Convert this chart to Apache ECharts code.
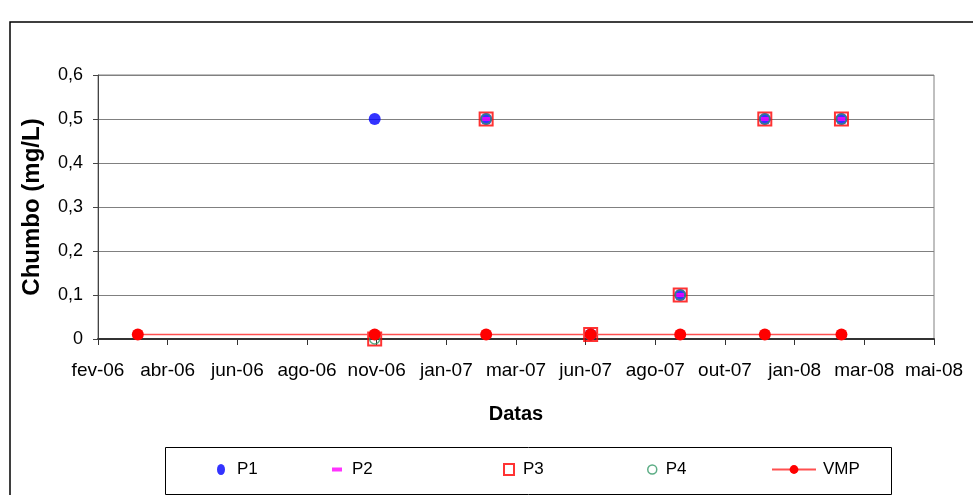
<!DOCTYPE html>
<html>
<head>
<meta charset="utf-8">
<script src="https://cdn.jsdelivr.net/npm/echarts@6/dist/echarts.min.js"></script>
<style>
html,body{margin:0;padding:0;background:#fff;}
#chart{width:973px;height:495px;}
</style>
</head>
<body>
<div id="chart"></div>
<script>
// Sampling dates
var dates = ['2006-03-13','2006-11-06','2007-02-26','2007-06-11','2007-09-09','2007-12-03','2008-02-18'];
// Lead (mg/L) per point
var P1  = [null, 0.5, 0.5, 0.01, 0.1, 0.5, 0.5];
var P2  = [null, null, 0.5, 0.01, 0.1, 0.5, 0.5];
var P3  = [null, 0, 0.5, 0.01, 0.1, 0.5, 0.5];
var P4  = [null, 0, 0.5, 0.01, 0.1, 0.5, 0.5];
var VMP = [0.01, 0.01, 0.01, 0.01, 0.01, 0.01, 0.01];
// X axis (Excel date axis, 70-day major unit starting 01-feb-2006)
var axisStart = '2006-02-01';
var tickDays = 70;
var xTickLabels = ['fev-06','abr-06','jun-06','ago-06','nov-06','jan-07','mar-07','jun-07','ago-07','out-07','jan-08','mar-08','mai-08'];

function dayOffset(s){
  var a = s.split('-').map(Number), b = axisStart.split('-').map(Number);
  return Math.round((Date.UTC(a[0],a[1]-1,a[2]) - Date.UTC(b[0],b[1]-1,b[2]))/86400000);
}
function pairs(vals){
  var out = [];
  vals.forEach(function(v,i){ if(v!==null) out.push([dayOffset(dates[i]), v]); });
  return out;
}
var FONT = '"Liberation Sans", Arial, sans-serif';
var chart = echarts.init(document.getElementById('chart'));
function leg(name, left, w, icon, style, pad, keep){
  var d = {name: name};
  if (icon) d.icon = icon;
  if (style) d.itemStyle = style;
  return {
    left: left, top: 461, orient: 'horizontal', padding: 0,
    itemWidth: w, itemHeight: 11, symbolKeepAspect: keep !== false,
    selectedMode: false,
    textStyle: {fontFamily: FONT, fontSize: 17, color: '#000', padding: [0,0,0,pad]},
    data: [d]
  };
}
chart.setOption({
  animation: false,
  backgroundColor: '#fff',
  grid: {left: 98, right: 39, top: 75, bottom: 156, show: true, borderColor: '#808080', borderWidth: 1},
  xAxis: {
    type: 'value', min: 0, max: (xTickLabels.length-1)*tickDays, interval: tickDays,
    name: 'Datas', nameLocation: 'middle', nameGap: 65,
    nameTextStyle: {fontFamily: FONT, fontSize: 20, fontWeight: 'bold', color: '#000'},
    axisLine: {show: true, lineStyle: {color: '#333', width: 2}},
    axisTick: {show: true, length: 6, lineStyle: {color: '#333', width: 1}},
    splitLine: {show: false},
    axisLabel: {
      fontFamily: FONT, fontSize: 19, color: '#000', margin: 22,
      formatter: function(v){ var i = Math.round(v/tickDays); return xTickLabels[i] || ''; }
    }
  },
  yAxis: {
    type: 'value', min: 0, max: 0.6, interval: 0.1,
    name: 'Chumbo (mg/L)', nameLocation: 'middle', nameGap: 54,
    nameTextStyle: {fontFamily: FONT, fontSize: 24, fontWeight: 'bold', color: '#000'},
    axisLine: {show: true, lineStyle: {color: '#444', width: 1}},
    axisTick: {show: true, length: 5, lineStyle: {color: '#444'}},
    splitLine: {show: true, lineStyle: {color: '#808080', width: 1}},
    axisLabel: {
      fontFamily: FONT, fontSize: 18, color: '#000', margin: 15,
      formatter: function(v){ return v === 0 ? '0' : v.toFixed(1).replace('.', ','); }
    }
  },
  legend: [
    leg('P1', 217, 8, 'path://M4,0A4,5.5,0,1,1,4,11A4,5.5,0,1,1,4,0Z', {color: '#0000ff'}, 7),
    leg('P2', 332, 10, 'path://M0,0h10v4h-10z', {color: '#ff00ff'}, 5),
    leg('P3', 503, 10, 'rect', {color: 'rgba(0,0,0,0)', borderColor: '#ff0000', borderWidth: 2}, 4),
    leg('P4', 647, 9, 'circle', {color: 'rgba(0,0,0,0)', borderColor: '#339966', borderWidth: 1.5}, 4),
    leg('VMP', 771, 44, null, null, 2)
  ],
  graphic: [
    {type: 'rect', silent: true, z: -1, shape: {x: 10, y: 22, width: 1000, height: 500}, style: {fill: 'none', stroke: '#000', lineWidth: 1.5}},
    {type: 'rect', silent: true, z: -1, shape: {x: 165.5, y: 447.5, width: 726, height: 47}, style: {fill: 'none', stroke: '#000', lineWidth: 1}}
  ],
  series: [
    {name: 'P1', type: 'scatter', data: pairs(P1), symbol: 'circle', symbolSize: 12, itemStyle: {color: '#0000ff'}},
    {name: 'P2', type: 'scatter', data: pairs(P2), symbol: 'rect', symbolSize: [8,4], itemStyle: {color: '#ff00ff'}},
    {name: 'P3', type: 'scatter', data: pairs(P3), symbol: 'rect', symbolSize: 13, itemStyle: {color: 'rgba(0,0,0,0)', borderColor: '#ff0000', borderWidth: 2}},
    {name: 'P4', type: 'scatter', data: pairs(P4), symbol: 'circle', symbolSize: 10, itemStyle: {color: 'rgba(0,0,0,0)', borderColor: '#339966', borderWidth: 1.5}},
    {name: 'VMP', type: 'line', data: pairs(VMP), symbol: 'circle', symbolSize: 12, showSymbol: true,
     itemStyle: {color: '#ff0000'}, lineStyle: {color: '#ff5050', width: 1.5}}
  ]
});
</script>
</body>
</html>
